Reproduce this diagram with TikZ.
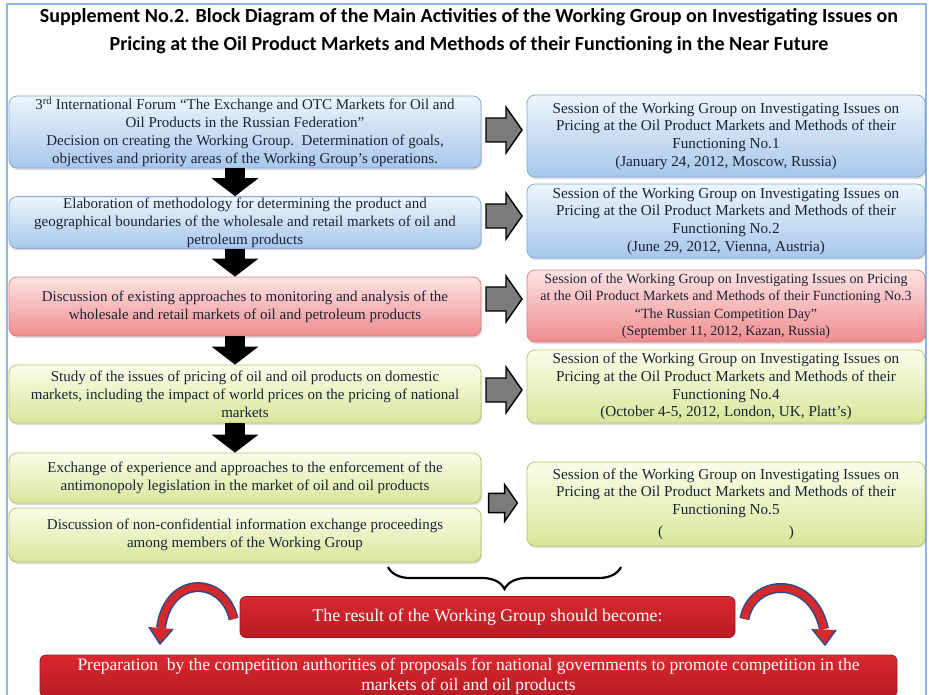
\documentclass[tikz,border=0pt]{standalone}
\usepackage{fontspec}
\setmainfont{Liberation Serif}
\newfontfamily\titlefont{Carlito}
\usetikzlibrary{shadows,decorations.pathreplacing,calc,arrows.meta}
\definecolor{txt}{HTML}{1B2435}
\definecolor{bluetop}{HTML}{EEF5FC}
\definecolor{bluebot}{HTML}{A7C7EA}
\definecolor{blueedge}{HTML}{87A9D3}
\definecolor{redtop}{HTML}{FDE3E3}
\definecolor{redbot}{HTML}{EF8D8F}
\definecolor{rededge}{HTML}{DC8286}
\definecolor{grntop}{HTML}{FBFDE9}
\definecolor{grnbot}{HTML}{D9E69B}
\definecolor{grnedge}{HTML}{B3C66E}
\definecolor{arrowgray}{HTML}{7B7B7B}
\definecolor{restop}{HTML}{DA2830}
\definecolor{resbot}{HTML}{B81B22}
\definecolor{resedge}{HTML}{A3151B}
\definecolor{framecol}{HTML}{8DB6E0}
\definecolor{navy}{HTML}{2B4A8A}
\definecolor{bandred}{HTML}{D42A2E}
\begin{document}
\begin{tikzpicture}[x=1pt,y=1pt,
  box/.style={rounded corners=8pt, line width=0.8pt, align=center, text=txt,
    inner sep=1pt, font=\fontsize{15}{18}\selectfont,
    drop shadow={opacity=0.25, shadow xshift=1pt, shadow yshift=-2pt}},
  bluebox/.style={box, draw=blueedge, top color=bluetop, bottom color=bluebot},
  redbox/.style={box, draw=rededge, top color=redtop, bottom color=redbot},
  grnbox/.style={box, draw=grnedge, top color=grntop, bottom color=grnbot},
  leftw/.style={minimum width=472pt},
  rightw/.style={minimum width=398pt, font=\fontsize{15.2}{17.6}\selectfont},
  resbox/.style={rounded corners=6pt, draw=resedge, line width=0.8pt, top color=restop, bottom color=resbot, text=white, align=center, inner sep=1pt},
  downarrow/.style={line width=20pt, black, -{Triangle[width=46pt,length=18pt]}},
  garrow/.pic={\filldraw[fill=arrowgray, draw=black, line width=1.4pt, line join=miter]
     (-18,-12) -- (2,-12) -- (2,-23) -- (18,0) -- (2,23) -- (2,12) -- (-18,12) -- cycle;},
  bandout/.style={line width=10pt, draw=navy},
  bandin/.style={line width=7pt, draw=bandred},
]
\useasboundingbox (0,0) rectangle (929,-694);
\clip (0,0) rectangle (929,-694);
\fill[white] (0,0) rectangle (929,-694);
\draw[framecol, line width=2pt] (7,-710) -- (7,-4) -- (926,-4) -- (926,-710);

\node[font=\titlefont\bfseries\fontsize{20}{28}\selectfont, align=center, text=black] (title) at (469,-31)
 {Supplement No.2. Block Diagram of the Main Activities of the Working Group on Investigating Issues on\\
  Pricing at the Oil Product Markets and Methods of their Functioning in the Near Future};

% left column
\node[bluebox, leftw, minimum height=72pt] (L1) at (245,-132)
 {3\textsuperscript{rd} International Forum “The Exchange and OTC Markets for Oil and\\
  Oil Products in the Russian Federation”\\
  Decision on creating the Working Group.\ \ Determination of goals,\\
  objectives and priority areas of the Working Group’s operations.};
\node[bluebox, leftw, minimum height=51pt] (L2) at (245,-222.5)
 {Elaboration of methodology for determining the product and\\
  geographical boundaries of the wholesale and retail markets of oil and\\
  petroleum products};
\node[redbox, leftw, minimum height=59pt] (L3) at (245,-306.5)
 {Discussion of existing approaches to monitoring and analysis of the\\
  wholesale and retail markets of oil and petroleum products};
\node[grnbox, leftw, minimum height=58pt] (L4) at (245,-394)
 {Study of the issues of pricing of oil and oil products on domestic\\
  markets, including the impact of world prices on the pricing of national\\
  markets};
\node[grnbox, leftw, minimum height=50pt] (L5) at (245,-478)
 {Exchange of experience and approaches to the enforcement of the\\
  antimonopoly legislation in the market of oil and oil products};
\node[grnbox, leftw, minimum height=54pt] (L6) at (245,-535)
 {Discussion of non-confidential information exchange proceedings\\
  among members of the Working Group};

% right column
\node[bluebox, rightw, minimum height=82pt] (R1) at (726,-136)
 {Session of the Working Group on Investigating Issues on\\
  Pricing at the Oil Product Markets and Methods of their\\
  Functioning No.1\\
  (January 24, 2012, Moscow, Russia)};
\node[bluebox, rightw, minimum height=74pt] (R2) at (726,-221)
 {Session of the Working Group on Investigating Issues on\\
  Pricing at the Oil Product Markets and Methods of their\\
  Functioning No.2\\
  (June 29, 2012, Vienna, Austria)};
\node[redbox, rightw, minimum height=72pt, font=\fontsize{14}{17.5}\selectfont] (R3) at (726,-306)
 {Session of the Working Group on Investigating Issues on Pricing\\
  at the Oil Product Markets and Methods of their Functioning No.3\\
  “The Russian Competition Day”\\
  (September 11, 2012, Kazan, Russia)};
\node[grnbox, rightw, minimum height=73pt] (R4) at (726,-386.5)
 {Session of the Working Group on Investigating Issues on\\
  Pricing at the Oil Product Markets and Methods of their\\
  Functioning No.4\\
  (October 4-5, 2012, London, UK, Platt’s)};
\node[grnbox, rightw, minimum height=84pt] (R5) at (726,-504)
 {Session of the Working Group on Investigating Issues on\\
  Pricing at the Oil Product Markets and Methods of their\\
  Functioning No.5\\[4pt]
  \makebox[136pt]{(\hfill)}};

% black down arrows
\draw[downarrow] ([xshift=-10pt]L1.south) -- ([xshift=-10pt]L2.north);
\draw[downarrow] ([xshift=-10pt]L2.south) -- ([xshift=-10pt]L3.north);
\draw[downarrow] ([xshift=-10pt]L3.south) -- ([xshift=-10pt]L4.north);
\draw[downarrow] ([xshift=-10pt]L4.south) -- ([xshift=-10pt]L5.north);

% gray right arrows
\pic at (504,-130) {garrow};
\pic at (504,-216) {garrow};
\pic at (504,-299) {garrow};
\pic at (504,-390) {garrow};
\pic[scale=0.8] at (503,-503) {garrow};

% brace
\coordinate (brL) at (388,-567);
\coordinate (brR) at (621,-567);
\draw[decorate, decoration={brace, amplitude=22pt, mirror}, line width=2.2pt, black] (brL) -- (brR);

% result boxes
\node[resbox, minimum width=495pt, minimum height=41pt, font=\fontsize{17.8}{20}\selectfont] (res) at (487.5,-617)
 {The result of the Working Group should become:};
\node[resbox, minimum width=857pt, minimum height=42pt, font=\fontsize{17.5}{19.5}\selectfont] (fin) at (468.5,-676)
 {Preparation\ \ by the competition authorities of proposals for national governments to promote competition in the\\
  markets of oil and oil products};
\fill[resbot] ([xshift=0.4pt]fin.south west) rectangle ([xshift=-0.4pt,yshift=-20pt]fin.south east);

% curved arrows
\coordinate (tl) at ([xshift=-6pt,yshift=-2pt]res.west);
\coordinate (hl) at (161,-628);
\draw[bandout] (tl) .. controls (224,-576) and (168,-574) .. (hl);
\draw[bandin] (tl) .. controls (224,-576) and (168,-574) .. (hl);
\fill[bandred] (149,-627) -- (160,-644) -- (173,-629) -- cycle;
\draw[navy, line width=1.5pt, line join=round] (149,-627) -- (160,-644) -- (173,-629);

\coordinate (tr) at ([xshift=9pt,yshift=-2pt]res.east);
\coordinate (hr) at (824,-629);
\draw[bandout] (tr) .. controls (752,-578) and (812,-574) .. (hr);
\draw[bandin] (tr) .. controls (752,-578) and (812,-574) .. (hr);
\fill[bandred] (812,-629) -- (825,-645) -- (836,-630) -- cycle;
\draw[navy, line width=1.5pt, line join=round] (812,-629) -- (825,-645) -- (836,-630);
\end{tikzpicture}
\end{document}
